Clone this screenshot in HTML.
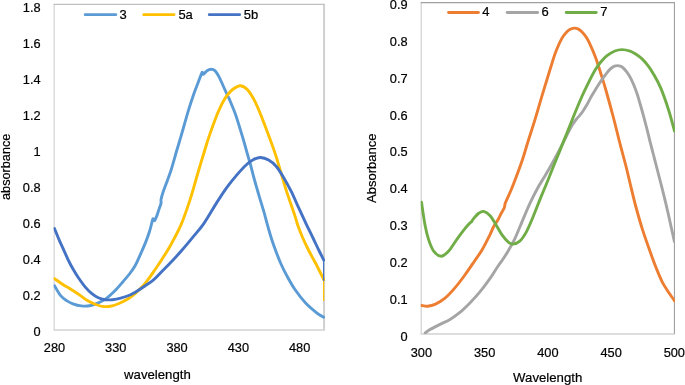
<!DOCTYPE html>
<html><head><meta charset="utf-8"><title>Absorbance spectra</title>
<style>
html,body{margin:0;padding:0;background:#ffffff;}
body{width:685px;height:385px;overflow:hidden;position:relative;font-family:"Liberation Sans",sans-serif;}
</style></head><body>
<svg width="685" height="385" viewBox="0 0 685 385" style="position:absolute;left:0;top:0;display:block;will-change:transform;opacity:0.999">
<rect x="0" y="0" width="685" height="385" fill="#ffffff"/>
<g fill="none" stroke-linecap="butt">
<path d="M54.15,4.4 V329.8" stroke="#cfcfcf" stroke-width="1.1"/>
<path d="M53.6,330.05 H325.05" stroke="#d2d2d2" stroke-width="1.4"/>
<path d="M53.6,4.4 H325.05" stroke="#bebebe" stroke-width="1.2"/>
<path d="M324.05,4.4 V329.8" stroke="#d0d0d0" stroke-width="2"/>
<path d="M421.2,2.6 V333.8" stroke="#cdcdcd" stroke-width="1.1"/>
<path d="M420.65,334.05 H675" stroke="#d2d2d2" stroke-width="1.4"/>
<path d="M420.65,2.6 H675" stroke="#a0a0a0" stroke-width="1.1"/>
<path d="M674.45,2.6 V333.8" stroke="#a0a0a0" stroke-width="1.1"/>
</g>
<defs><clipPath id="cl"><rect x="53.6" y="3.8" width="271.4" height="326.5"/></clipPath><clipPath id="cr"><rect x="420.7" y="2" width="254.3" height="332.3"/></clipPath></defs>
<g fill="none" stroke-width="2.9" stroke-linecap="round" stroke-linejoin="round" clip-path="url(#cl)">
<path d="M54.50,285.70 C55.48,287.30 58.38,292.82 60.40,295.30 C62.42,297.78 64.52,299.18 66.60,300.60 C68.68,302.02 70.47,302.92 72.90,303.80 C75.33,304.68 78.43,305.57 81.20,305.90 C83.97,306.23 86.73,306.27 89.50,305.80 C92.27,305.33 95.03,304.30 97.80,303.10 C100.57,301.90 103.33,300.57 106.10,298.60 C108.87,296.63 111.63,294.07 114.40,291.30 C117.17,288.53 120.07,285.05 122.70,282.00 C125.33,278.95 128.07,275.83 130.20,273.00 C132.33,270.17 133.72,268.28 135.50,265.00 C137.28,261.72 139.22,257.07 140.90,253.30 C142.58,249.53 144.17,246.03 145.60,242.40 C147.03,238.77 148.47,234.75 149.50,231.50 C150.53,228.25 151.27,224.93 151.80,222.90 C152.33,220.87 152.38,219.97 152.70,219.30 C153.02,218.63 153.38,218.67 153.70,218.90 C154.02,219.13 154.28,220.72 154.60,220.70 C154.92,220.68 155.15,219.85 155.60,218.80 C156.05,217.75 156.68,216.13 157.30,214.40 C157.92,212.67 158.68,210.23 159.30,208.40 C159.92,206.57 160.70,204.92 161.00,203.40 C161.30,201.88 160.73,201.23 161.10,199.30 C161.47,197.37 162.15,194.95 163.20,191.80 C164.25,188.65 166.08,184.03 167.40,180.40 C168.72,176.77 169.52,175.07 171.10,170.00 C172.68,164.93 175.18,155.85 176.90,150.00 C178.62,144.15 179.45,141.58 181.40,134.90 C183.35,128.22 186.53,116.72 188.60,109.90 C190.67,103.08 192.23,98.50 193.80,94.00 C195.37,89.50 196.63,86.45 198.00,82.90 C199.37,79.35 201.12,74.13 202.00,72.70 C202.88,71.27 202.45,74.63 203.30,74.30 C204.15,73.97 205.82,71.53 207.10,70.70 C208.38,69.87 209.70,69.32 211.00,69.30 C212.30,69.28 213.60,69.42 214.90,70.60 C216.20,71.78 217.48,74.00 218.80,76.40 C220.12,78.80 221.35,81.82 222.80,85.00 C224.25,88.18 226.35,93.00 227.50,95.50 C228.65,98.00 228.33,96.75 229.70,100.00 C231.07,103.25 233.48,108.58 235.70,115.00 C237.92,121.42 240.95,131.65 243.00,138.50 C245.05,145.35 246.73,151.68 248.00,156.10 C249.27,160.52 249.52,161.02 250.60,165.00 C251.68,168.98 253.10,174.90 254.50,180.00 C255.90,185.10 257.47,190.40 259.00,195.60 C260.53,200.80 262.20,206.00 263.70,211.20 C265.20,216.40 266.70,222.20 268.00,226.80 C269.30,231.40 270.20,234.77 271.50,238.80 C272.80,242.83 274.22,246.80 275.80,251.00 C277.38,255.20 279.05,259.67 281.00,264.00 C282.95,268.33 285.12,272.67 287.50,277.00 C289.88,281.33 292.28,285.67 295.30,290.00 C298.32,294.33 301.93,299.12 305.60,303.00 C309.27,306.88 314.27,310.93 317.30,313.30 C320.33,315.67 322.72,316.55 323.80,317.20" stroke="#5B9BD5"/>
<path d="M54.50,278.60 C55.83,279.53 59.78,282.43 62.50,284.20 C65.22,285.97 68.03,287.47 70.80,289.20 C73.57,290.93 76.33,292.70 79.10,294.60 C81.87,296.50 84.63,298.95 87.40,300.60 C90.17,302.25 92.93,303.50 95.70,304.50 C98.47,305.50 101.23,306.38 104.00,306.60 C106.77,306.82 109.53,306.45 112.30,305.80 C115.07,305.15 117.82,303.97 120.60,302.70 C123.38,301.43 126.62,299.70 129.00,298.20 C131.38,296.70 132.25,296.12 134.90,293.70 C137.55,291.28 141.58,287.65 144.90,283.70 C148.22,279.75 151.90,274.17 154.80,270.00 C157.70,265.83 159.77,262.67 162.30,258.70 C164.83,254.73 166.88,251.83 170.00,246.20 C173.12,240.57 177.67,232.62 181.00,224.90 C184.33,217.18 187.28,208.22 190.00,199.90 C192.72,191.58 194.83,183.32 197.30,175.00 C199.77,166.68 202.75,156.68 204.80,150.00 C206.85,143.32 207.58,140.73 209.60,134.90 C211.62,129.07 215.12,119.60 216.90,115.00 C218.68,110.40 219.13,109.77 220.30,107.30 C221.47,104.83 222.65,102.33 223.90,100.20 C225.15,98.07 226.25,96.37 227.80,94.50 C229.35,92.63 231.12,90.47 233.20,89.00 C235.28,87.53 237.95,85.62 240.30,85.70 C242.65,85.78 244.88,86.92 247.30,89.50 C249.72,92.08 252.30,96.33 254.80,101.20 C257.30,106.07 259.80,112.47 262.30,118.70 C264.80,124.93 267.52,132.37 269.80,138.60 C272.08,144.83 273.28,147.55 276.00,156.10 C278.72,164.65 283.00,180.10 286.10,189.90 C289.20,199.70 292.67,209.05 294.60,214.90 C296.53,220.75 296.33,221.15 297.70,225.00 C299.07,228.85 300.92,233.67 302.80,238.00 C304.68,242.33 306.80,246.67 309.00,251.00 C311.20,255.33 313.53,259.25 316.00,264.00 C318.47,268.75 322.50,276.92 323.80,279.50" stroke="#FFC000"/>
<path d="M54.50,228.50 C55.31,230.48 57.75,236.68 59.35,240.40 C60.95,244.12 62.54,247.37 64.10,250.80 C65.66,254.23 67.17,257.88 68.70,261.00 C70.23,264.12 71.57,266.53 73.30,269.50 C75.03,272.47 77.10,275.87 79.10,278.80 C81.10,281.73 83.22,284.67 85.30,287.10 C87.38,289.53 89.52,291.67 91.60,293.40 C93.68,295.13 95.55,296.45 97.80,297.50 C100.05,298.55 102.68,299.33 105.10,299.70 C107.52,300.07 109.72,299.95 112.30,299.70 C114.88,299.45 117.65,298.98 120.60,298.20 C123.55,297.42 127.62,295.97 130.00,295.00 C132.38,294.03 132.42,293.90 134.90,292.40 C137.38,290.90 141.85,288.03 144.90,286.00 C147.95,283.97 150.42,282.57 153.20,280.20 C155.98,277.83 158.48,274.95 161.60,271.80 C164.72,268.65 168.45,264.97 171.90,261.30 C175.35,257.63 178.83,253.78 182.30,249.80 C185.77,245.82 189.12,241.77 192.70,237.40 C196.28,233.03 199.77,229.43 203.80,223.60 C207.83,217.77 213.05,208.43 216.90,202.40 C220.75,196.37 223.57,191.98 226.90,187.40 C230.23,182.82 233.70,178.63 236.90,174.90 C240.10,171.17 243.32,167.57 246.10,165.00 C248.88,162.43 251.18,160.75 253.60,159.50 C256.02,158.25 258.10,157.42 260.60,157.50 C263.10,157.58 266.02,158.55 268.60,160.00 C271.18,161.45 273.60,163.30 276.10,166.20 C278.60,169.10 281.10,173.23 283.60,177.40 C286.10,181.57 288.62,186.20 291.10,191.20 C293.58,196.20 296.02,202.00 298.50,207.40 C300.98,212.80 303.58,218.50 306.00,223.60 C308.42,228.70 310.80,233.43 313.00,238.00 C315.20,242.57 317.40,247.33 319.20,251.00 C321.00,254.67 323.03,258.50 323.80,260.00" stroke="#4472C4"/>
</g>
<path d="M323.6,260 V281.5" stroke="#4472C4" stroke-width="1.2" fill="none"/>
<path d="M323.6,281 V301" stroke="#FFC000" stroke-width="1.2" fill="none"/>
<g fill="none" stroke-width="2.9" stroke-linecap="round" stroke-linejoin="round" clip-path="url(#cr)">
<path d="M421.50,305.40 C422.50,305.53 425.25,306.37 427.50,306.20 C429.75,306.03 432.08,305.73 435.00,304.40 C437.92,303.07 441.68,300.95 445.00,298.20 C448.32,295.45 451.58,291.77 454.90,287.90 C458.22,284.03 461.57,279.57 464.90,275.00 C468.23,270.43 472.05,264.67 474.90,260.50 C477.75,256.33 479.50,254.27 482.00,250.00 C484.50,245.73 488.02,238.68 489.90,234.90 C491.78,231.12 491.90,229.92 493.30,227.30 C494.70,224.68 497.08,221.33 498.30,219.20 C499.52,217.07 499.60,216.40 500.60,214.50 C501.60,212.60 503.50,209.75 504.30,207.80 C505.10,205.85 504.27,205.77 505.40,202.80 C506.53,199.83 509.12,194.80 511.10,190.00 C513.08,185.20 515.32,179.33 517.30,174.00 C519.28,168.67 521.32,163.08 523.00,158.00 C524.68,152.92 525.42,149.85 527.40,143.50 C529.38,137.15 532.43,127.95 534.90,119.90 C537.37,111.85 539.98,102.60 542.20,95.20 C544.42,87.80 546.57,80.83 548.20,75.50 C549.83,70.17 550.73,67.17 552.00,63.20 C553.27,59.23 554.13,55.88 555.80,51.70 C557.47,47.52 560.10,41.48 562.00,38.10 C563.90,34.72 565.73,32.92 567.20,31.40 C568.67,29.88 569.57,29.55 570.80,29.00 C572.03,28.45 573.33,28.08 574.60,28.10 C575.87,28.12 577.20,28.50 578.40,29.10 C579.60,29.70 580.63,30.55 581.80,31.70 C582.97,32.85 584.20,34.27 585.40,36.00 C586.60,37.73 587.35,38.63 589.00,42.10 C590.65,45.57 593.23,51.27 595.30,56.80 C597.37,62.33 599.62,69.68 601.40,75.30 C603.18,80.92 604.00,83.47 606.00,90.50 C608.00,97.53 611.12,108.83 613.40,117.50 C615.68,126.17 617.63,134.50 619.70,142.50 C621.77,150.50 624.08,158.75 625.80,165.50 C627.52,172.25 628.40,176.42 630.00,183.00 C631.60,189.58 633.30,197.18 635.40,205.00 C637.50,212.82 639.95,221.58 642.60,229.90 C645.25,238.22 648.93,248.30 651.30,254.90 C653.67,261.50 654.97,264.97 656.80,269.50 C658.63,274.03 660.37,278.35 662.30,282.10 C664.23,285.85 666.35,288.88 668.40,292.00 C670.45,295.12 673.57,299.33 674.60,300.80" stroke="#ED7D31"/>
<path d="M425.20,333.00 C426.00,332.43 427.53,331.03 430.00,329.60 C432.47,328.17 436.67,326.10 440.00,324.40 C443.33,322.70 446.68,321.40 450.00,319.40 C453.32,317.40 456.58,315.15 459.90,312.40 C463.22,309.65 466.57,306.32 469.90,302.90 C473.23,299.48 476.57,295.93 479.90,291.90 C483.23,287.87 486.98,282.85 489.90,278.70 C492.82,274.55 495.32,270.12 497.40,267.00 C499.48,263.88 500.63,262.63 502.40,260.00 C504.17,257.37 505.92,254.77 508.00,251.20 C510.08,247.63 512.52,243.62 514.90,238.60 C517.28,233.58 519.82,226.92 522.30,221.10 C524.78,215.28 527.30,209.10 529.80,203.70 C532.30,198.30 534.80,193.28 537.30,188.70 C539.80,184.12 542.52,180.07 544.80,176.20 C547.08,172.33 548.87,169.28 551.00,165.50 C553.13,161.72 555.57,157.35 557.60,153.50 C559.63,149.65 561.43,145.90 563.20,142.40 C564.97,138.90 566.63,135.48 568.20,132.50 C569.77,129.52 571.25,126.70 572.60,124.50 C573.95,122.30 575.15,120.78 576.30,119.30 C577.45,117.82 578.43,116.90 579.50,115.60 C580.57,114.30 581.52,113.22 582.70,111.50 C583.88,109.78 585.22,107.72 586.60,105.30 C587.98,102.88 589.57,99.55 591.00,97.00 C592.43,94.45 593.73,92.37 595.20,90.00 C596.67,87.63 598.27,85.10 599.80,82.80 C601.33,80.50 603.00,78.13 604.40,76.20 C605.80,74.27 607.03,72.57 608.20,71.20 C609.37,69.83 610.35,68.83 611.40,68.00 C612.45,67.17 613.50,66.60 614.50,66.20 C615.50,65.80 616.43,65.62 617.40,65.60 C618.37,65.58 619.35,65.72 620.30,66.10 C621.25,66.48 622.07,66.98 623.10,67.90 C624.13,68.82 625.33,70.07 626.50,71.60 C627.67,73.13 628.92,74.95 630.10,77.10 C631.28,79.25 632.45,81.77 633.60,84.50 C634.75,87.23 635.88,90.17 637.00,93.50 C638.12,96.83 639.22,100.77 640.30,104.50 C641.38,108.23 642.42,111.90 643.50,115.90 C644.58,119.90 645.70,124.17 646.80,128.50 C647.90,132.83 649.00,137.57 650.10,141.90 C651.20,146.23 652.32,150.32 653.40,154.50 C654.48,158.68 655.33,162.08 656.60,167.00 C657.87,171.92 659.40,177.67 661.00,184.00 C662.60,190.33 664.40,197.35 666.20,205.00 C668.00,212.65 670.42,223.75 671.80,229.90 C673.18,236.05 674.05,239.90 674.50,241.90" stroke="#A5A5A5"/>
<path d="M421.50,202.30 C422.08,206.07 423.80,218.63 425.00,224.90 C426.20,231.17 427.25,235.53 428.70,239.90 C430.15,244.27 431.62,248.38 433.70,251.10 C435.78,253.82 438.70,256.20 441.20,256.20 C443.70,256.20 446.00,254.03 448.70,251.10 C451.40,248.17 454.70,242.35 457.40,238.60 C460.10,234.85 462.80,231.22 464.90,228.60 C467.00,225.98 468.90,224.05 470.00,222.90 C471.10,221.75 470.90,222.42 471.50,221.70 C472.10,220.98 472.40,220.00 473.60,218.60 C474.80,217.20 477.03,214.50 478.70,213.30 C480.37,212.10 481.73,211.05 483.60,211.40 C485.47,211.75 487.82,213.15 489.90,215.40 C491.98,217.65 494.02,221.57 496.10,224.90 C498.18,228.23 500.32,232.48 502.40,235.40 C504.48,238.32 506.85,240.95 508.60,242.40 C510.35,243.85 511.03,244.32 512.90,244.10 C514.77,243.88 517.60,243.05 519.80,241.10 C522.00,239.15 524.02,236.13 526.10,232.40 C528.18,228.67 530.02,224.12 532.30,218.70 C534.58,213.28 537.42,205.77 539.80,199.90 C542.18,194.03 544.28,189.18 546.60,183.50 C548.92,177.82 550.93,172.65 553.70,165.80 C556.47,158.95 559.97,150.45 563.20,142.40 C566.43,134.35 569.98,125.15 573.10,117.50 C576.22,109.85 579.35,102.28 581.90,96.50 C584.45,90.72 586.17,87.25 588.40,82.80 C590.63,78.35 593.23,73.27 595.30,69.80 C597.37,66.33 598.90,64.32 600.80,62.00 C602.70,59.68 604.35,57.73 606.70,55.90 C609.05,54.07 612.37,52.05 614.90,51.00 C617.43,49.95 619.37,49.58 621.90,49.60 C624.43,49.62 627.75,50.33 630.10,51.10 C632.45,51.87 634.05,52.95 636.00,54.20 C637.95,55.45 639.83,56.73 641.80,58.60 C643.77,60.47 645.83,62.80 647.80,65.40 C649.77,68.00 651.40,70.33 653.60,74.20 C655.80,78.07 658.50,82.63 661.00,88.60 C663.50,94.57 666.35,102.93 668.60,110.00 C670.85,117.07 673.52,127.50 674.50,131.00" stroke="#70AD47"/>
</g>
<g fill="none" stroke-width="2.9" stroke-linecap="round">
<path d="M85.2,14.65 H115.8" stroke="#5B9BD5"/>
<path d="M143.8,14.65 H174.0" stroke="#FFC000"/>
<path d="M209.3,14.65 H239.6" stroke="#4472C4"/>
<path d="M448.6,12.5 H478.4" stroke="#ED7D31"/>
<path d="M507.2,12.5 H537.6" stroke="#A5A5A5"/>
<path d="M566.2,12.5 H596.2" stroke="#70AD47"/>
</g>
<g font-family="'Liberation Sans', sans-serif" fill="#000000" stroke="#000000" stroke-width="0.2">
<text transform="translate(119.50,18.70) scale(1.000,1.045)" text-anchor="start" font-size="13.0px">3</text>
<text transform="translate(178.40,18.70) scale(1.000,1.045)" text-anchor="start" font-size="13.0px">5a</text>
<text transform="translate(243.80,18.70) scale(1.000,1.045)" text-anchor="start" font-size="13.0px">5b</text>
<text transform="translate(482.20,16.40) scale(1.000,1.045)" text-anchor="start" font-size="13.0px">4</text>
<text transform="translate(541.40,16.40) scale(1.000,1.045)" text-anchor="start" font-size="13.0px">6</text>
<text transform="translate(600.20,16.40) scale(1.000,1.045)" text-anchor="start" font-size="13.0px">7</text>
<text transform="translate(40.60,11.55) scale(1.000,1.045)" text-anchor="end" font-size="12.8px">1.8</text>
<text transform="translate(40.60,47.65) scale(1.000,1.045)" text-anchor="end" font-size="12.8px">1.6</text>
<text transform="translate(40.60,83.75) scale(1.000,1.045)" text-anchor="end" font-size="12.8px">1.4</text>
<text transform="translate(40.60,119.85) scale(1.000,1.045)" text-anchor="end" font-size="12.8px">1.2</text>
<text transform="translate(40.60,155.95) scale(1.000,1.045)" text-anchor="end" font-size="12.8px">1</text>
<text transform="translate(40.60,192.05) scale(1.000,1.045)" text-anchor="end" font-size="12.8px">0.8</text>
<text transform="translate(40.60,228.15) scale(1.000,1.045)" text-anchor="end" font-size="12.8px">0.6</text>
<text transform="translate(40.60,264.25) scale(1.000,1.045)" text-anchor="end" font-size="12.8px">0.4</text>
<text transform="translate(40.60,300.35) scale(1.000,1.045)" text-anchor="end" font-size="12.8px">0.2</text>
<text transform="translate(40.60,336.45) scale(1.000,1.045)" text-anchor="end" font-size="12.8px">0</text>
<text transform="translate(54.50,352.20) scale(1.000,1.045)" text-anchor="middle" font-size="12.8px">280</text>
<text transform="translate(115.78,352.20) scale(1.000,1.045)" text-anchor="middle" font-size="12.8px">330</text>
<text transform="translate(177.05,352.20) scale(1.000,1.045)" text-anchor="middle" font-size="12.8px">380</text>
<text transform="translate(238.33,352.20) scale(1.000,1.045)" text-anchor="middle" font-size="12.8px">430</text>
<text transform="translate(299.60,352.20) scale(1.000,1.045)" text-anchor="middle" font-size="12.8px">480</text>
<text transform="translate(407.60,9.05) scale(1.000,1.045)" text-anchor="end" font-size="12.8px">0.9</text>
<text transform="translate(407.60,45.89) scale(1.000,1.045)" text-anchor="end" font-size="12.8px">0.8</text>
<text transform="translate(407.60,82.73) scale(1.000,1.045)" text-anchor="end" font-size="12.8px">0.7</text>
<text transform="translate(407.60,119.57) scale(1.000,1.045)" text-anchor="end" font-size="12.8px">0.6</text>
<text transform="translate(407.60,156.41) scale(1.000,1.045)" text-anchor="end" font-size="12.8px">0.5</text>
<text transform="translate(407.60,193.25) scale(1.000,1.045)" text-anchor="end" font-size="12.8px">0.4</text>
<text transform="translate(407.60,230.09) scale(1.000,1.045)" text-anchor="end" font-size="12.8px">0.3</text>
<text transform="translate(407.60,266.93) scale(1.000,1.045)" text-anchor="end" font-size="12.8px">0.2</text>
<text transform="translate(407.60,303.77) scale(1.000,1.045)" text-anchor="end" font-size="12.8px">0.1</text>
<text transform="translate(407.60,340.61) scale(1.000,1.045)" text-anchor="end" font-size="12.8px">0</text>
<text transform="translate(421.40,356.60) scale(1.000,1.045)" text-anchor="middle" font-size="12.8px">300</text>
<text transform="translate(484.62,356.60) scale(1.000,1.045)" text-anchor="middle" font-size="12.8px">350</text>
<text transform="translate(547.85,356.60) scale(1.000,1.045)" text-anchor="middle" font-size="12.8px">400</text>
<text transform="translate(611.07,356.60) scale(1.000,1.045)" text-anchor="middle" font-size="12.8px">450</text>
<text transform="translate(674.30,356.60) scale(1.000,1.045)" text-anchor="middle" font-size="12.8px">500</text>
<text transform="translate(157.40,379.30) scale(1.000,1.000)" text-anchor="middle" font-size="13.2px">wavelength</text>
<text transform="translate(547.70,382.20) scale(1.000,1.000)" text-anchor="middle" font-size="13.2px">Wavelength</text>
<text transform="translate(10.4,166.8) rotate(-90)" text-anchor="middle" font-size="12.7px">absorbance</text>
<text transform="translate(375.8,168.3) rotate(-90)" text-anchor="middle" font-size="13px">Absorbance</text>
</g>
</svg>
</body></html>
